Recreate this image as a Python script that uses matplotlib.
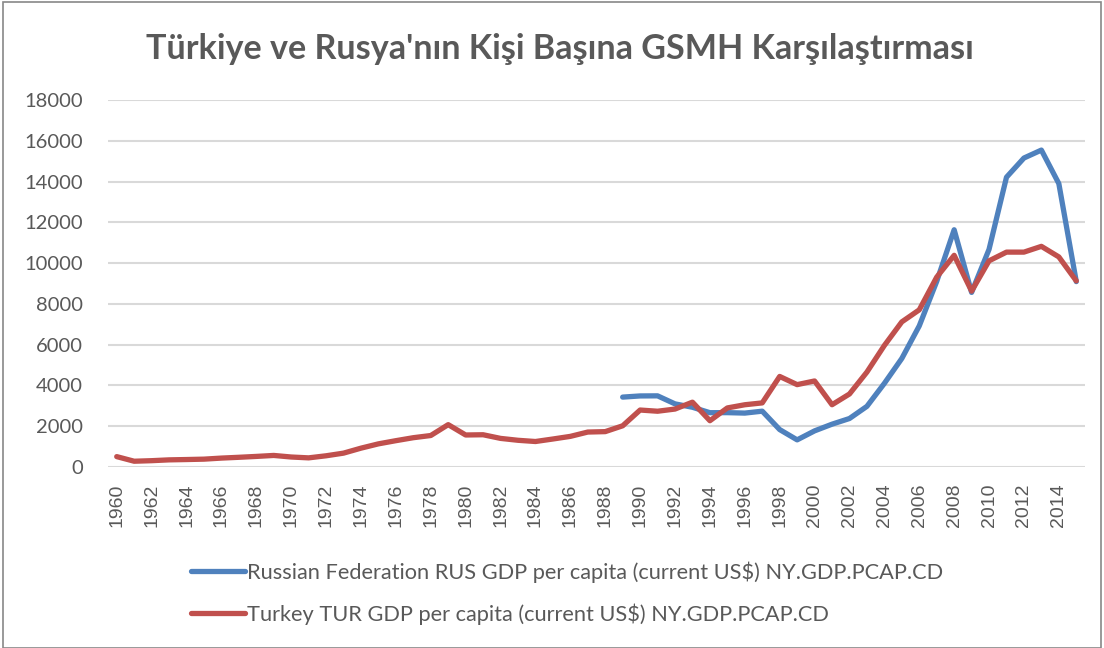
import matplotlib
matplotlib.use("Agg")
import matplotlib.pyplot as plt
from matplotlib.patches import Rectangle

years = list(range(1960, 2016))
turkey = [509, 283, 310, 350, 366, 385, 437, 476, 519, 567,
          490, 448, 550, 680, 924, 1135, 1291, 1437, 1544, 2078,
          1570, 1582, 1403, 1310, 1250, 1373, 1502, 1714, 1735, 2021,
          2794, 2735, 2842, 3180, 2270, 2897, 3053, 3144, 4441, 4040,
          4220, 3054, 3581, 4656, 5961, 7118, 7708, 9312, 10382, 8626,
          10112, 10539, 10539, 10822, 10304, 9130]
russia_years = list(range(1989, 2016))
russia = [3428, 3485, 3490, 3096, 2930, 2663, 2666, 2644, 2738, 1835,
          1331, 1772, 2100, 2378, 2975, 4102, 5323, 6920, 9101, 11635,
          8563, 10675, 14213, 15154, 15544, 13900, 9093]
title = "Türkiye ve Rusya'nın Kişi Başına GSMH Karşılaştırması"
label_rus = "Russian Federation RUS GDP per capita (current US$) NY.GDP.PCAP.CD"
label_tur = "Turkey TUR GDP per capita (current US$) NY.GDP.PCAP.CD"

plt.rcParams['font.family'] = ['Lato', 'DejaVu Sans']
gray = '#595959'

fig = plt.figure(figsize=(11.04, 6.48), dpi=100)
ax = fig.add_axes([108/1104, 1-467/648, (1085-108)/1104, (467-100)/648])

l1, = ax.plot(russia_years, russia, color='#4f81bd', lw=3.8, solid_capstyle='round', solid_joinstyle='round')
l2, = ax.plot(years, turkey, color='#c0504d', lw=3.8, solid_capstyle='round', solid_joinstyle='round')

ax.set_xlim(1959.5, 2015.5)
ax.set_ylim(0, 18000)
ax.set_yticks(range(0, 18001, 2000))
ax.set_xticks(range(1960, 2015, 2))
ax.set_xticklabels([str(y) for y in range(1960, 2015, 2)], rotation=90,
                   family=['Liberation Sans', 'DejaVu Sans'])
ax.tick_params(axis='both', length=0, labelcolor=gray)
ax.tick_params(axis='y', pad=18, labelsize=14.5)
ax.tick_params(axis='x', pad=12, labelsize=14)
ax.grid(axis='y', color='#d9d9d9', lw=1.5)
ax.set_axisbelow(True)
for s in ax.spines.values():
    s.set_visible(False)

fig.text(0.507, 0.925, title, ha='center', va='center', fontsize=24.6, fontweight='bold', color=gray)

leg = fig.legend([l1, l2], [label_rus, label_tur], loc='center left',
                 bbox_to_anchor=(171/1104, 1-593/648), frameon=False,
                 fontsize=15.7, labelcolor=gray, handlelength=2.5, handletextpad=0.1,
                 labelspacing=0.95)

fig.patches.append(Rectangle((0.003, 0.0), 0.994, 0.997, transform=fig.transFigure,
                             fill=False, edgecolor='#888888', lw=1.2))

fig.savefig('out.png', dpi=100, facecolor='white')
